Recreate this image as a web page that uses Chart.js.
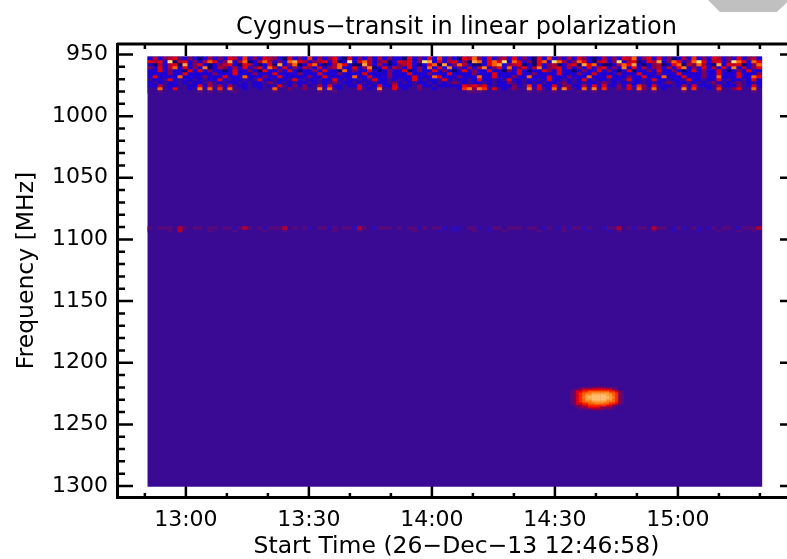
<!DOCTYPE html>
<html>
<head>
<meta charset="utf-8">
<title>Cygnus-transit in linear polarization</title>
<script src="https://cdn.jsdelivr.net/npm/chart.js@4"></script>
<style>
  html, body { margin: 0; padding: 0; background: #fff; overflow: hidden; width: 787px; height: 559px; }
  #wrap { position: relative; width: 787px; height: 559px; overflow: hidden; }
  #chart { position: absolute; left: 0; top: 0; filter: blur(0.5px); }
  #corner { position: absolute; left: 708px; top: 0; width: 79px; height: 12px; background: #c0c0c0;
            clip-path: polygon(0 0, 100% 0, 100% 20%, 87% 100%, 15% 100%); }
</style>
</head>
<body>
<div id="wrap">
  <canvas id="chart" width="812" height="559"></canvas>
  <div id="corner"></div>
</div>
<script>
// axes, times are minutes after midnight
const timeTicks = [780, 810, 840, 870, 900];
const timeLabels = ['13:00', '13:30', '14:00', '14:30', '15:00'];
const timeMinor = [770, 790, 800, 820, 830, 850, 860, 880, 890, 910, 920];
const freqTicks = [950, 1000, 1050, 1100, 1150, 1200, 1250, 1300];
const freqMinor = [960, 970, 980, 990, 1010, 1020, 1030, 1040, 1060, 1070, 1080, 1090, 1110, 1120, 1130, 1140,
  1160, 1170, 1180, 1190, 1210, 1220, 1230, 1240, 1260, 1270, 1280, 1290];

// quiet background of the spectrogram
const fullTime = 845.6;
const fullFreq = [952, 1300.4];
const fullLevel = 2;

// interference band on top, one string per frequency row, one hex digit per time column
const bandTimeStart = 771.34;
const bandTimeStep = 1.217;
const bandFreqs = [952, 954.4, 956.8, 959.3, 961.7, 964.1, 966.6, 969, 971.4, 973.9, 976.3, 978.7, 981.2];
const bandLevels = [
  '1b13b4a131 01b1314b15 1314b31041 3151b13410 4131b1b131 1041314151 3104b63141 3b14131041 5131b14310 1b1314b613 4141301b15 1314b13141 3b1',
  '4b41c0b413 1b641381b6 01b6b13168 4b13b41401 c146b13b01 4b413c8141 b413086146 4c16413046 1c6b136410 b413c1b401 4b81364136 c41b413c64 164',
  '10b1b40813 41013b4104 b101408136 0146101b64 1008b1b101 3b41014608 136b100146 813b401041 3b01b40846 1001b64810 13b01460b3 6b10814b40 136',
  '3141b61413 1701b31b14 13416b1413 1b31413b61 141370141b 3141316141 7131b1b713 4161341b71 3b41b13141 b41317141b 13b1b14713 141b14171b 134',
  '1141311041 4131101411 3104113141 0113141106 1311410131 1401311413 1014131141 1031410114 3141101311 4131014011 3141131014 1311410131 411',
  '1111311411 1113111411 1311141111 3111411131 1114111131 1141113111 4111131114 1111411311 1141113114 1111311141 1131114111 1311411141 113',
  '1411116111 1311141116 1113114111 1131141111 1611411131 1114111641 1131116114 1113116111 4111311161 1141113114 1116111411 1311611141 164',
  '2112412112 1211412112 1241121124 1211211412 1121241121 2114121124 1211214112 1241121121 4112121412 1121124112 1411211241 1211412112 141',
  '1212112121 1232121121 2112321212 1121212321 1212121123 1212112121 2321211212 1132121212 1123121211 2321212112 1212321121 2123121232 121',
  '11b2112211 41b2b1b211 2112124213 1312b14112 1141214114 1112311211 1114b4b412 1113125141 1413311b14 1411314153 1411121b14 1112b11132 141',
  '2262142212 7262526221 2212262232 2322726212 2242127224 2122322122 2215737524 2123227242 1627321627 2522324263 2621222725 2212522342 262',
  '22a2222222 a2a2a22a22 22222a2222 2222a22a22 222222a222 2222222222 2222aaa222 222222a2a2 2a2222a22a 22222222a2 2a22222a22 2222a22222 2a2'
];

// faint line near 1090 MHz
const lineFreqs = [1089.5, 1092, 1094];
const lineLevels = [
  'a2aaa2ba2a a2aa2aadab a2adaaab2a 2ad2aada2a adba2daaa2 a2aada2aad 2dd2aad2da a2aaa2aa2d a2dadaada2 2daab2adaa 2baa2dad2a d2da2aa2da aab',
  '2222a2b222 22a2222a22 222a222a22 2222222a22 22a2222222 222a2222d2 2d222a22d2 2a222222a2 222a2222d2 22d2a22222 2a222d2222 d222a222a2 2a2'
];

// the Cygnus spot
const spotTimes = [873.4, 874.1, 874.9, 875.6, 876.3, 877.1, 877.8, 878.5, 879.3, 880, 880.7, 881.5, 882.2, 882.9, 883.7, 884.4, 885.1, 885.9, 886.6, 887.3];
const spotFreqs = [1217.4, 1219, 1220.6, 1222.2, 1223.8, 1225.5, 1227.1, 1228.7, 1230.3, 1231.9, 1233.6, 1235.2, 1236.8, 1238.4];
const spotLevels = [
  '22222222222222222222',
  '2222aaaa33333aaaa222',
  '22a3344444444443a222',
  '2a3445566666665543a2',
  '2a3456778888887653a2',
  '2a3456889999988653a2',
  '2a3457899999998753a2',
  '2a3456889999988653a2',
  '2a3456778888877653a2',
  '2a3445566777665543a2',
  '22a3344555555443a222',
  '222a33344443333a2222',
  '2222aaaa3333aaa22222'
];

const palette = ['#10006e', '#1e00d2', '#3a0a94', '#800055', '#e00010', '#f52a00', '#ff6000', '#ff7a18', '#ffa040',
  '#ffbe70', '#560a7c', '#b00030', '#ffe27a', '#2c0cb8'];

const pxPerMinute = 4.1;

// one dataset per frequency row, cells are floating bars
function rowDataset(times, low, high, levels, width, order) {
  return {
    data: times.map(t => ({ x: t, y: [low, high] })),
    backgroundColor: levels.map(l => palette[l]),
    barThickness: width,
    stack: 'heat',
    order: order
  };
}

function digits(row) {
  return row.replace(/ /g, '').split('').map(c => parseInt(c, 16));
}

function bandTimes(count) {
  return Array.from({ length: count }, (_, i) => bandTimeStart + i * bandTimeStep);
}

// higher order is painted first, so the background goes under the cells
const datasets = [rowDataset([fullTime], fullFreq[0], fullFreq[1], [fullLevel], 614, 1)];

bandLevels.forEach((row, i) => {
  const levels = digits(row);
  datasets.push(rowDataset(bandTimes(levels.length), bandFreqs[i], bandFreqs[i + 1], levels, bandTimeStep * pxPerMinute, 0));
});
lineLevels.forEach((row, i) => {
  const levels = digits(row);
  datasets.push(rowDataset(bandTimes(levels.length), lineFreqs[i], lineFreqs[i + 1], levels, bandTimeStep * pxPerMinute, 0));
});
spotLevels.forEach((row, i) => {
  datasets.push(rowDataset(spotTimes, spotFreqs[i], spotFreqs[i + 1], digits(row), 3, 0));
});

// IDL style: ticks point inward, on all four sides
const inwardTicks = {
  id: 'inwardTicks',
  beforeDatasetsDraw(chart) {
    const { ctx, chartArea: area, scales: { x, y } } = chart;
    ctx.save();
    ctx.strokeStyle = '#000';
    ctx.lineWidth = 3;
    ctx.beginPath();
    ctx.moveTo(area.left, area.top); ctx.lineTo(area.right, area.top);
    ctx.moveTo(area.right, area.top); ctx.lineTo(area.right, area.bottom);
    ctx.stroke();
    function xMarks(values, topLen, bottomLen) {
      values.forEach(v => {
        const p = x.getPixelForValue(v);
        ctx.moveTo(p, area.top); ctx.lineTo(p, area.top + topLen);
        ctx.moveTo(p, area.bottom); ctx.lineTo(p, area.bottom - bottomLen);
      });
    }
    function yMarks(values, len) {
      values.forEach(v => {
        const p = y.getPixelForValue(v);
        ctx.moveTo(area.left, p); ctx.lineTo(area.left + len, p);
        ctx.moveTo(area.right, p); ctx.lineTo(area.right - len, p);
      });
    }
    ctx.lineWidth = 2.5;
    ctx.beginPath();
    xMarks(timeTicks, 12, 11);
    yMarks(freqTicks, 16);
    xMarks(timeMinor, 5, 4);
    yMarks(freqMinor, 8);
    ctx.stroke();
    ctx.restore();
  }
};

new Chart(document.getElementById('chart'), {
  type: 'bar',
  data: { datasets: datasets },
  plugins: [inwardTicks],
  options: {
    responsive: false,
    animation: false,
    layout: { padding: { left: 0, right: 16, top: 0, bottom: 0 } },
    plugins: {
      legend: { display: false },
      tooltip: { enabled: false },
      title: {
        display: true,
        fullSize: false,
        text: 'Cygnus\u2212transit in linear polarization',
        color: '#000',
        font: { family: 'DejaVu Sans', size: 24, weight: 'normal', lineHeight: 1.2 },
        padding: { top: 13, bottom: 2.2 }
      }
    },
    scales: {
      x: {
        type: 'linear',
        offset: false,
        min: 763.2,
        max: 928.8,
        afterFit: s => { s.height = 62; },
        afterBuildTicks: s => { s.ticks = timeTicks.map(v => ({ value: v })); },
        grid: { drawOnChartArea: false, drawTicks: false },
        border: { display: true, color: '#000', width: 3 },
        ticks: {
          autoSkip: false,
          maxRotation: 0,
          padding: 10,
          color: '#000',
          font: { family: 'DejaVu Sans', size: 22 },
          callback: v => timeLabels[timeTicks.indexOf(v)]
        },
        title: {
          display: true,
          text: 'Start Time (26\u2212Dec\u221213 12:46:58)',
          color: '#000',
          font: { family: 'DejaVu Sans', size: 23.5, lineHeight: 1 },
          padding: { top: 1, bottom: 0 }
        }
      },
      y: {
        type: 'linear',
        reverse: true,
        stacked: false,
        min: 941.5,
        max: 1308.9,
        afterFit: s => { s.width = 117; },
        afterBuildTicks: s => { s.ticks = freqTicks.map(v => ({ value: v })); },
        grid: { drawOnChartArea: false, drawTicks: false },
        border: { display: true, color: '#000', width: 3 },
        ticks: {
          autoSkip: false,
          padding: 9,
          color: '#000',
          font: { family: 'DejaVu Sans', size: 22 },
          callback: v => String(v)
        },
        title: {
          display: true,
          text: 'Frequency [MHz]',
          color: '#000',
          font: { family: 'DejaVu Sans', size: 23.5, lineHeight: 1.2 },
          padding: { top: 13, bottom: 0 }
        }
      }
    }
  }
});
</script>
</body>
</html>
